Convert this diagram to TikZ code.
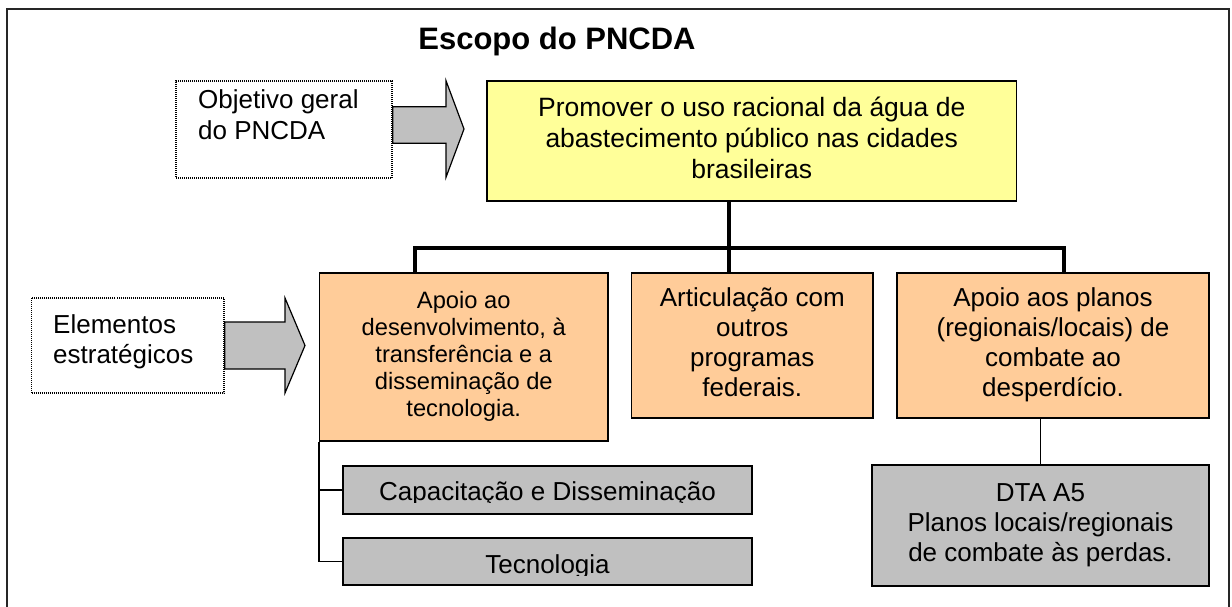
\documentclass[tikz,border=0pt]{standalone}
\usepackage{fontspec}
\setmainfont{Liberation Sans}
\definecolor{ylw}{HTML}{FFFF99}
\definecolor{org}{HTML}{FFCC99}
\definecolor{gry}{HTML}{C0C0C0}
\tikzset{
  box/.style={draw=black, line width=1.4pt, inner sep=0pt, align=center,
              font=\fontsize{26}{30}\selectfont},
  yellowbox/.style={box, fill=ylw, font=\fontsize{26.5}{31}\selectfont},
  orangebox/.style={box, fill=org},
  graybox/.style={box, fill=gry},
  dotbox/.style={draw=black, line width=1.3pt, dash pattern=on 1pt off 1pt, inner sep=0pt},
  label/.style={inner sep=0pt, align=left, font=\fontsize{26}{31}\selectfont},
  txt/.style={inner sep=0pt, align=center, font=\fontsize{26}{30}\selectfont},
  blockarrow/.style={draw=black, line width=1.2pt, fill=gry, line join=miter},
  bar/.style={draw=black, line width=4pt},
  thinline/.style={draw=black, line width=1.5pt},
  frameline/.style={draw=black!85, line width=2pt}
}
\begin{document}
\begin{tikzpicture}[x=1pt,y=-1pt]
\useasboundingbox (0,0) rectangle (1232,607);

% outer frame (bottom edge falls outside the picture)
\draw[frameline] (7,610) -- (7,9) -- (1229,9) -- (1229,610);

% title
\node[inner sep=0pt, anchor=base, font=\fontsize{31}{37}\selectfont\bfseries] (title) at (557,50) {Escopo do PNCDA};

% left labels
\node[dotbox, minimum width=216pt, minimum height=97pt] (obj) at (284,129.5) {};
\node[label, anchor=west] (objtxt) at (198,118.3) {\strut Objetivo geral\\\strut do PNCDA};
\node[dotbox, minimum width=192.5pt, minimum height=95pt] (ele) at (127.75,345.5) {};
\node[label, anchor=west, font=\fontsize{26}{30}\selectfont] (eletxt) at (53,342) {\strut Elementos\\\strut estratégicos};

% block arrows
\draw[blockarrow] (obj.east |- 0,106.7) -- (446,106.7) -- (446,80.7) -- (464,129)
   -- (446,177.3) -- (446,143.3) -- (obj.east |- 0,143.3) -- cycle;
\draw[blockarrow] (ele.east |- 0,322) -- (285,322) -- (285,298) -- (305,345.5)
   -- (285,393) -- (285,369) -- (ele.east |- 0,369) -- cycle;

% main goal
\node[yellowbox, minimum width=529.5pt, minimum height=120pt] (goal) at (751.75,141)
  {\strut Promover o uso racional da água de\\\strut abastecimento público nas cidades\\\strut brasileiras};

% strategic elements
\node[orangebox, minimum width=288.5pt, minimum height=168pt, font=\fontsize{23.7}{27}\selectfont] (o1) at (463.75,357)
  {\strut Apoio ao\\\strut desenvolvimento, à\\\strut transferência e a\\\strut disseminação de\\\strut tecnologia.};
\node[orangebox, minimum width=241.5pt, minimum height=145pt] (o2) at (752.25,345.5)
  {\strut Articulação com\\\strut outros\\\strut programas\\\strut federais.};
\node[orangebox, minimum width=312pt, minimum height=145pt] (o3) at (1053,345.5)
  {\strut Apoio aos planos\\\strut (regionais/locais) de\\\strut combate ao\\\strut desperdício.};

% sub items
\node[graybox, minimum width=409pt, minimum height=48pt] (cap) at (547.5,490) {};
\node[graybox, minimum width=409pt, minimum height=47pt] (tec) at (547.5,561.5) {};
\begin{scope}
  \clip (343,466) rectangle (752,502.5);
  \node[txt] (captxt) at (547.5,494) {\strut Capacitação e Disseminação};
\end{scope}
\begin{scope}
  \clip (343,538) rectangle (752,575.5);
  \node[txt] (tectxt) at (547.5,567) {\strut Tecnologia};
\end{scope}
\node[graybox, minimum width=337pt, minimum height=121pt] (dta) at (1040.5,525.5)
  {\strut DTA A5\\\strut Planos locais/regionais\\\strut de combate às perdas.};

% tree connectors
\coordinate (bus) at (728.5,248);
\coordinate (c1) at (415,248);
\coordinate (c3) at (1064,248);
\draw[bar] (goal.south -| bus) -- (o2.north -| bus);
\draw[bar, line join=miter] (o1.north -| c1) -- (c1) -- (c3) -- (o3.north -| c3);

\draw[thinline] (o1.south west) |- (cap.west);
\draw[thinline] (o1.south west) |- (tec.west);
\draw[thinline] (o3.south -| dta.north) -- (dta.north);
\end{tikzpicture}
\end{document}
